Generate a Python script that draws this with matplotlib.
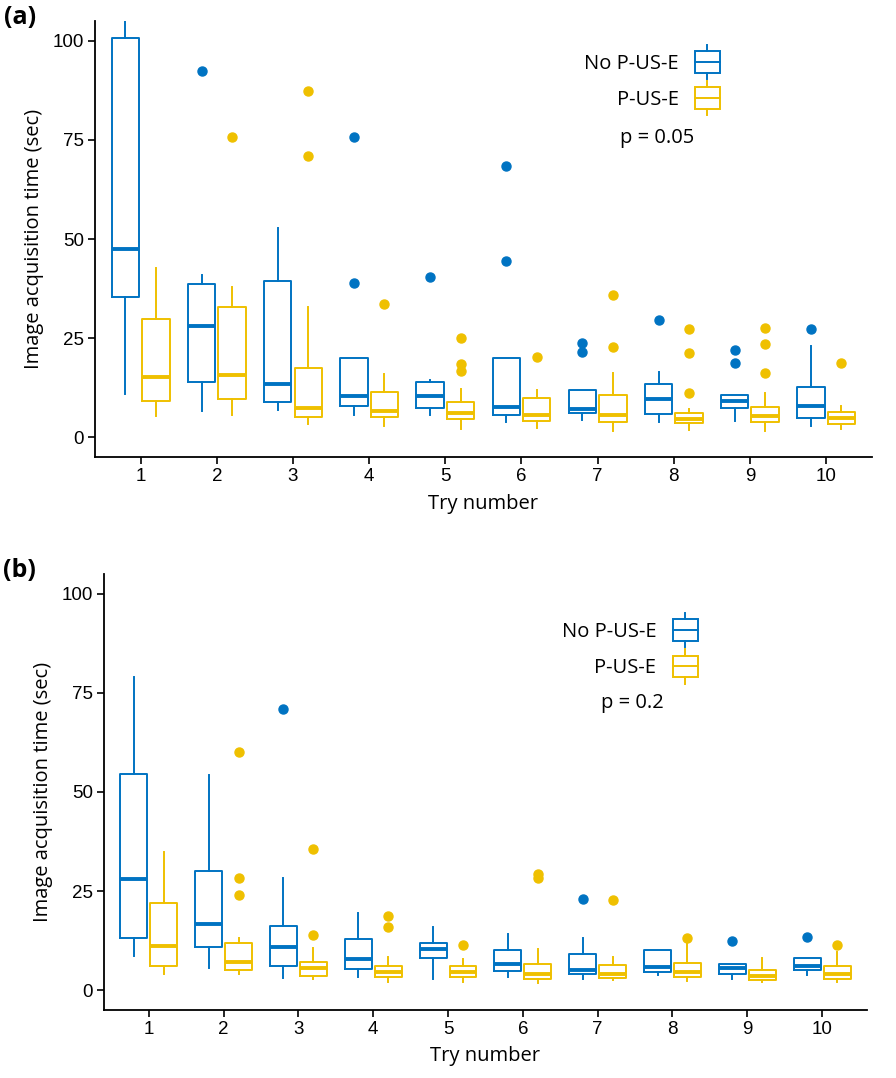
"""Two-panel boxplot: image acquisition time per try, with / without P-US-E."""
import matplotlib
matplotlib.use("Agg")
import matplotlib.pyplot as plt
from matplotlib.legend_handler import HandlerBase
from matplotlib.patches import Rectangle, Patch
from matplotlib.lines import Line2D

BLUE, YELLOW = "#0073C2", "#EFC000"
TRIES = list(range(1, 11))

# ── panel (a): No P-US-E ──
A_NO_LO  = [10.8, 6.7, 7.0, 5.7, 5.5, 3.8, 4.3, 3.8, 4.0, 2.8]
A_NO_Q1  = [35.4, 14.0, 9.0, 7.8, 7.4, 5.6, 6.1, 5.9, 7.3, 4.8]
A_NO_MED = [47.5, 28.1, 13.4, 10.3, 10.3, 7.7, 7.2, 9.6, 9.2, 8.0]
A_NO_Q3  = [100.8, 38.7, 39.5, 19.9, 13.9, 19.9, 11.8, 13.4, 10.7, 12.8]
A_NO_HI  = [105.0, 40.9, 52.9, 19.9, 14.5, 19.9, 11.8, 16.5, 10.7, 22.9]
A_NO_OUT = [[], [92.3], [], [75.7, 39.0], [40.4], [68.4, 44.5], [23.8, 21.4],
            [29.6], [22.0, 18.8], [27.3]]
# ── panel (a): P-US-E ──
A_P_LO  = [5.3, 5.5, 3.4, 2.8, 2.1, 2.4, 1.5, 1.9, 1.7, 2.2]
A_P_Q1  = [9.1, 9.7, 5.0, 5.1, 4.6, 4.0, 3.8, 3.6, 3.8, 3.4]
A_P_MED = [15.1, 15.8, 7.3, 6.7, 6.1, 5.7, 5.7, 4.6, 5.3, 4.9]
A_P_Q3  = [29.9, 32.9, 17.5, 11.4, 8.9, 9.8, 10.7, 6.0, 7.7, 6.3]
A_P_HI  = [42.7, 38.0, 32.9, 16.0, 12.2, 11.8, 16.2, 7.2, 11.2, 8.0]
A_P_OUT = [[], [75.8], [87.3, 70.9], [33.7], [25.0, 18.5, 16.6], [20.3],
           [36.0, 22.8], [27.4, 21.3, 11.1], [27.6, 23.6, 16.2], [18.8]]

# ── panel (b): No P-US-E ──
B_NO_LO  = [8.6, 5.7, 3.1, 3.2, 2.8, 3.4, 2.8, 3.8, 2.9, 3.8]
B_NO_Q1  = [13.2, 11.0, 6.2, 5.4, 8.0, 4.9, 4.2, 4.6, 4.2, 5.0]
B_NO_MED = [28.0, 16.6, 11.0, 7.8, 10.3, 6.7, 5.2, 5.9, 5.5, 6.0]
B_NO_Q3  = [54.6, 30.1, 16.2, 12.9, 11.8, 10.1, 9.2, 10.1, 6.5, 8.0]
B_NO_HI  = [79.0, 54.3, 28.2, 19.5, 16.0, 14.1, 13.2, 10.1, 6.5, 8.0]
B_NO_OUT = [[], [], [70.9], [], [], [], [23.0], [], [12.4], [13.4]]
# ── panel (b): P-US-E ──
B_P_LO  = [4.2, 4.2, 2.9, 2.1, 2.1, 1.8, 2.5, 2.4, 2.1, 2.1]
B_P_Q1  = [6.2, 5.0, 3.6, 3.4, 3.4, 2.9, 3.1, 3.2, 2.5, 2.9]
B_P_MED = [11.1, 7.0, 5.5, 4.5, 4.5, 4.2, 4.0, 4.5, 3.5, 4.2]
B_P_Q3  = [22.1, 11.9, 7.1, 6.2, 6.2, 6.6, 6.3, 6.9, 5.0, 6.0]
B_P_HI  = [34.8, 13.2, 10.7, 8.4, 7.8, 10.5, 8.4, 11.8, 8.0, 9.7]
B_P_OUT = [[], [60.0, 28.3, 24.1], [35.5, 13.9], [18.6, 16.0], [11.3],
           [29.4, 28.4], [22.8], [13.2], [], [11.5]]

P_TEXT = ["p = 0.05", "p = 0.2"]
LABELS = ["No P-US-E", "P-US-E"]

TXT = ["Open Sans", "DejaVu Sans"]
TICK = ["Liberation Sans", "DejaVu Sans"]


def stats(lo, q1, med, q3, hi, out):
    return [dict(whislo=a, q1=b, med=c, q3=d, whishi=e, fliers=f)
            for a, b, c, d, e, f in zip(lo, q1, med, q3, hi, out)]


class BoxHandle(HandlerBase):
    def create_artists(self, legend, orig, xd, yd, width, height, fontsize, trans):
        c = orig.get_edgecolor()
        x0, y0 = -xd, -yd
        bh = height * 1.45
        by = y0 + height / 2 - bh / 2
        box = Rectangle((x0, by), width, bh, fill=False, ec=c, lw=1.4, transform=trans)
        mid = Line2D([x0, x0 + width], [y0 + height / 2] * 2, color=c, lw=1.4, transform=trans)
        wt = Line2D([x0 + width / 2] * 2, [by + bh, by + bh + height * 0.45], color=c, lw=1.4, transform=trans)
        wb = Line2D([x0 + width / 2] * 2, [by, by - height * 0.45], color=c, lw=1.4, transform=trans)
        return [box, mid, wt, wb]


def draw(ax, blue, yellow, ptxt, leg_anchor, p_pos):
    for st, col, off in [(blue, BLUE, -0.2), (yellow, YELLOW, 0.2)]:
        ax.bxp(st, positions=[t + off for t in TRIES], widths=0.36,
               patch_artist=False, showcaps=False,
               boxprops=dict(color=col, lw=1.4),
               whiskerprops=dict(color=col, lw=1.4),
               medianprops=dict(color=col, lw=2.8),
               flierprops=dict(marker="o", markerfacecolor=col, markeredgecolor=col,
                               markersize=6.5, linestyle="none"))
    ax.set_xlim(0.4, 10.6)
    ax.set_ylim(-5, 105)
    ax.set_xticks(TRIES)
    ax.set_xticklabels([str(t) for t in TRIES])
    ax.set_yticks([0, 25, 50, 75, 100])
    for s in ["top", "right"]:
        ax.spines[s].set_visible(False)
    for s in ["left", "bottom"]:
        ax.spines[s].set_linewidth(1.3)
    ax.tick_params(length=5, width=1.2, labelsize=13.5, pad=3)
    for lab in ax.get_xticklabels() + ax.get_yticklabels():
        lab.set_family(TICK)
    ax.set_xlabel("Try number", fontsize=14.5, family=TXT, labelpad=6)
    ax.set_ylabel("Image acquisition time (sec)", fontsize=14.5, family=TXT, labelpad=6)
    handles = [Patch(edgecolor=BLUE, facecolor="none"), Patch(edgecolor=YELLOW, facecolor="none")]
    ax.legend(handles, LABELS, handler_map={Patch: BoxHandle()}, frameon=False,
              markerfirst=False, loc="upper right", bbox_to_anchor=leg_anchor,
              prop=dict(family=TXT, size=14.5), handlelength=1.25, handleheight=0.75,
              labelspacing=0.8, handletextpad=0.8)
    ax.text(p_pos[0], p_pos[1], ptxt, transform=ax.transAxes, ha="center", va="center",
            fontsize=14.5, family=TXT)


fig = plt.figure(figsize=(8.96, 10.78), dpi=100)
ax_a = fig.add_axes([0.106, 0.576, 0.867, 0.4045])
ax_b = fig.add_axes([0.116, 0.0631, 0.8516, 0.4045])

draw(ax_a, stats(A_NO_LO, A_NO_Q1, A_NO_MED, A_NO_Q3, A_NO_HI, A_NO_OUT),
     stats(A_P_LO, A_P_Q1, A_P_MED, A_P_Q3, A_P_HI, A_P_OUT),
     P_TEXT[0], (0.828, 0.966), (0.723, 0.732))
draw(ax_b, stats(B_NO_LO, B_NO_Q1, B_NO_MED, B_NO_Q3, B_NO_HI, B_NO_OUT),
     stats(B_P_LO, B_P_Q1, B_P_MED, B_P_Q3, B_P_HI, B_P_OUT),
     P_TEXT[1], (0.802, 0.931), (0.692, 0.704))

fig.text(0.022, 0.984, "(a)", fontsize=18, fontweight="bold", family=TXT, va="center", ha="center")
fig.text(0.022, 0.471, "(b)", fontsize=18, fontweight="bold", family=TXT, va="center", ha="center")

fig.savefig("out.png", dpi=100)
